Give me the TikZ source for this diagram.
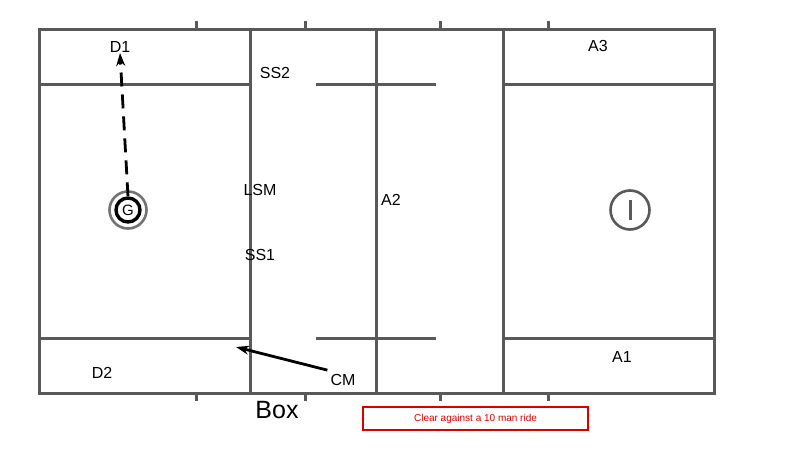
\documentclass[tikz,border=0pt]{standalone}
\usepackage{fontspec}
\setmainfont{Liberation Sans}
\usetikzlibrary{arrows.meta}
\begin{document}
\begin{tikzpicture}[x=1pt,y=-1pt,
  fieldline/.style={draw=black!65, line width=3pt},
  tick/.style={draw=black!65, line width=3pt},
  lbl/.style={font=\fontsize{16}{16}\selectfont, inner sep=0pt},
  move/.style={draw=black, line width=2.8pt, -{Stealth[length=13pt,width=9pt]}},
]
\useasboundingbox[fill=white] (0,0) rectangle (800,453);
% field
\draw[fieldline] (39,29) rectangle (714,393);
\draw[fieldline] (250,29) -- (250,393);
\draw[fieldline] (376,29) -- (376,393);
\draw[fieldline] (503,29) -- (503,393);
\draw[fieldline] (39,84) -- (250,84);
\draw[fieldline] (39,338) -- (250,338);
\draw[fieldline] (503,84) -- (714,84);
\draw[fieldline] (503,338) -- (714,338);
\draw[fieldline] (316,84) -- (436,84);
\draw[fieldline] (316,338) -- (436,338);
% ticks
\foreach \x in {196,305,440,548} {
  \draw[tick] (\x,29) -- (\x,21);
  \draw[tick] (\x,393) -- (\x,401);
}
% labels
\node[lbl] (d1) at (120,47) {D1};
\node[lbl] (ss2) at (275,73) {SS2};
\node[lbl] (lsm) at (260,190) {LSM};
\node[lbl] (ss1) at (260,255) {SS1};
\node[lbl] (a2) at (391,200) {A2};
\node[lbl] (a3) at (598,46) {A3};
\node[lbl] (a1) at (622,357) {A1};
\node[lbl] (d2) at (102,373) {D2};
\node[lbl] (cm) at (343,380) {CM};
\node[font=\fontsize{25}{25}\selectfont, inner sep=0pt] (box) at (277,410) {Box};
% goalie
\node[circle, draw=black!55, line width=2.6pt, minimum size=37pt, inner sep=0pt] (gout) at (128,210) {};
\node[circle, draw=black, line width=3.4pt, minimum size=24pt, inner sep=0pt, font=\fontsize{15}{15}\selectfont] (g) at (128,210) {G};
% I
\node[circle, draw=black!65, line width=2.6pt, minimum size=39pt, inner sep=0pt] (i) at (630,210) {};
\draw[draw=black!65, line width=3pt] (630,200) -- (630,220);
% arrows
\coordinate (d1tip) at (120,53);
\draw[move, dash pattern=on 14pt off 8pt] (g.north) -- (d1tip);
\coordinate (cmtip) at (236,347);
\draw[move] (cm.north west) ++(-3,-4) coordinate (cmstart) -- (cmtip);
% caption
\node[draw=red!85!black, line width=1.8pt, minimum width=225pt, minimum height=23pt, inner sep=0pt,
      text=red!85!black, font=\fontsize{10}{10}\selectfont] (cap) at (475.5,418.5) {Clear against a 10 man ride};
\end{tikzpicture}
\end{document}
